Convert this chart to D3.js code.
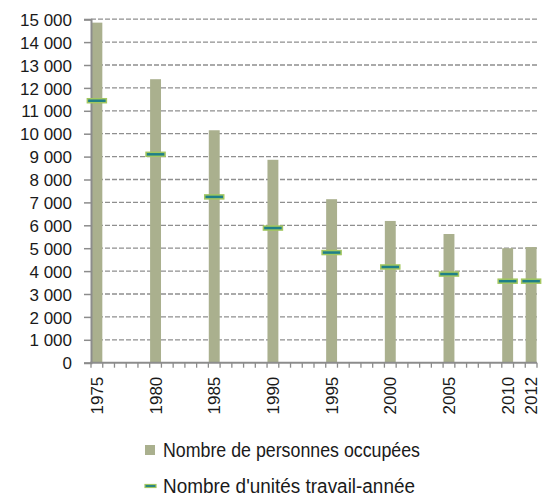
<!DOCTYPE html>
<html>
<head>
<meta charset="utf-8">
<style type="text/css">
	body{ margin:0; background:#fff; }
	svg text{ font-family:"Liberation Sans", Arial, sans-serif; fill:#1a1a1a; }
</style>
</head>
<body>
<div id="chart"></div>
<script src="https://cdn.jsdelivr.net/npm/d3@7"></script>
<script>
	var years = [1975, 1980, 1985, 1990, 1995, 2000, 2005, 2010, 2012];
	var personnes = [14850, 12380, 10150, 8860, 7140, 6190, 5620, 5000, 5050];
	var unites = [11440, 9100, 7240, 5880, 4810, 4180, 3870, 3560, 3560];
	var yTicks = [0, 1000, 2000, 3000, 4000, 5000, 6000, 7000, 8000, 9000, 10000, 11000, 12000, 13000, 14000, 15000];
	var legendLabels = ['Nombre de personnes occupées', "Nombre d'unités travail-année"];

	var W = 542, H = 496;
	var mLeft = 91, mRight = 537, mTop = 19.2, mBottom = 362.7;

	var svg = d3.select('#chart').append('svg')
		.attr('width', W).attr('height', H);

	// every year from 1975 to 2012 is a category slot
	var allYears = d3.range(years[0], years[years.length - 1] + 1);
	var x = d3.scaleBand().domain(allYears).range([mLeft, mRight]).padding(0);
	var y = d3.scaleLinear().domain([0, 15000]).range([mBottom, mTop]);

	var fmt = function(d){ return d3.format(',')(d).replace(/,/g, ' '); };

	// gridlines
	svg.append('g').selectAll('line')
		.data(yTicks.slice(1))
		.enter().append('line')
		.attr('x1', mLeft).attr('x2', mRight)
		.attr('y1', function(d){ return y(d); })
		.attr('y2', function(d){ return y(d); })
		.style('stroke', '#8f8f8f')
		.style('stroke-width', 1.3)
		.style('stroke-dasharray', '5,2');

	// bars
	var bw = x.bandwidth() * 0.93;
	svg.append('g').selectAll('rect')
		.data(years)
		.enter().append('rect')
		.attr('x', function(d){ return x(d) + (x.bandwidth() - bw) / 2; })
		.attr('y', function(d, i){ return y(personnes[i]); })
		.attr('width', bw)
		.attr('height', function(d, i){ return mBottom - y(personnes[i]); })
		.style('fill', '#aab08e');

	// y axis
	var yAxis = svg.append('g')
		.attr('transform', 'translate(' + mLeft + ',0)')
		.call(d3.axisLeft(y).tickValues(yTicks).tickFormat(fmt).tickSize(7).tickPadding(12));
	yAxis.select('.domain').style('stroke', '#8c8c8c').style('stroke-width', 2);
	yAxis.selectAll('.tick line').style('stroke', '#8c8c8c').style('stroke-width', 1.5);
	yAxis.selectAll('.tick text').style('font-size', '17px').attr('dy', '0.36em');

	// x axis with tick marks on category boundaries
	var xg = svg.append('g');
	xg.append('line')
		.attr('x1', mLeft - 1).attr('x2', mRight)
		.attr('y1', mBottom).attr('y2', mBottom)
		.style('stroke', '#8c8c8c').style('stroke-width', 2);
	xg.selectAll('.xt')
		.data(allYears.concat(['end']))
		.enter().append('line')
		.attr('class', 'xt')
		.attr('x1', function(d){ return d === 'end' ? mRight : x(d); })
		.attr('x2', function(d){ return d === 'end' ? mRight : x(d); })
		.attr('y1', mBottom).attr('y2', mBottom + 5)
		.style('stroke', '#8c8c8c').style('stroke-width', 1.3);
	xg.selectAll('.xl')
		.data(years)
		.enter().append('text')
		.attr('class', 'xl')
		.attr('transform', function(d){
			return 'translate(' + (x(d) + x.bandwidth() / 2 + 6) + ',' + (mBottom + 14) + ') rotate(-90)';
		})
		.attr('text-anchor', 'end')
		.style('font-size', '17px')
		.text(function(d){ return d; });

	// dash markers
	svg.append('g').selectAll('rect')
		.data(years)
		.enter().append('rect')
		.attr('x', function(d){ return x(d) + x.bandwidth() / 2 - 9.5; })
		.attr('y', function(d, i){ return y(unites[i]) - 2; })
		.attr('width', 19)
		.attr('height', 4)
		.style('fill', '#1f7f88')
		.style('stroke', '#a3c760')
		.style('stroke-width', 1.5);

	// legend
	var lg = svg.append('g');
	lg.append('rect')
		.attr('x', 145).attr('y', 445).attr('width', 10).attr('height', 10)
		.style('fill', '#aab08e');
	lg.append('rect')
		.attr('x', 145).attr('y', 484.5).attr('width', 11).attr('height', 3)
		.style('fill', '#1f7f88').style('stroke', '#a3c760').style('stroke-width', 1.2);
	lg.selectAll('text')
		.data(legendLabels)
		.enter().append('text')
		.attr('x', 163)
		.attr('y', function(d, i){ return 456.5 + i * 36; })
		.attr('textLength', function(d, i){ return i === 0 ? 257 : 252; })
		.attr('lengthAdjust', 'spacingAndGlyphs')
		.style('font-size', '20px')
		.text(function(d){ return d; });
</script>
</body>
</html>
